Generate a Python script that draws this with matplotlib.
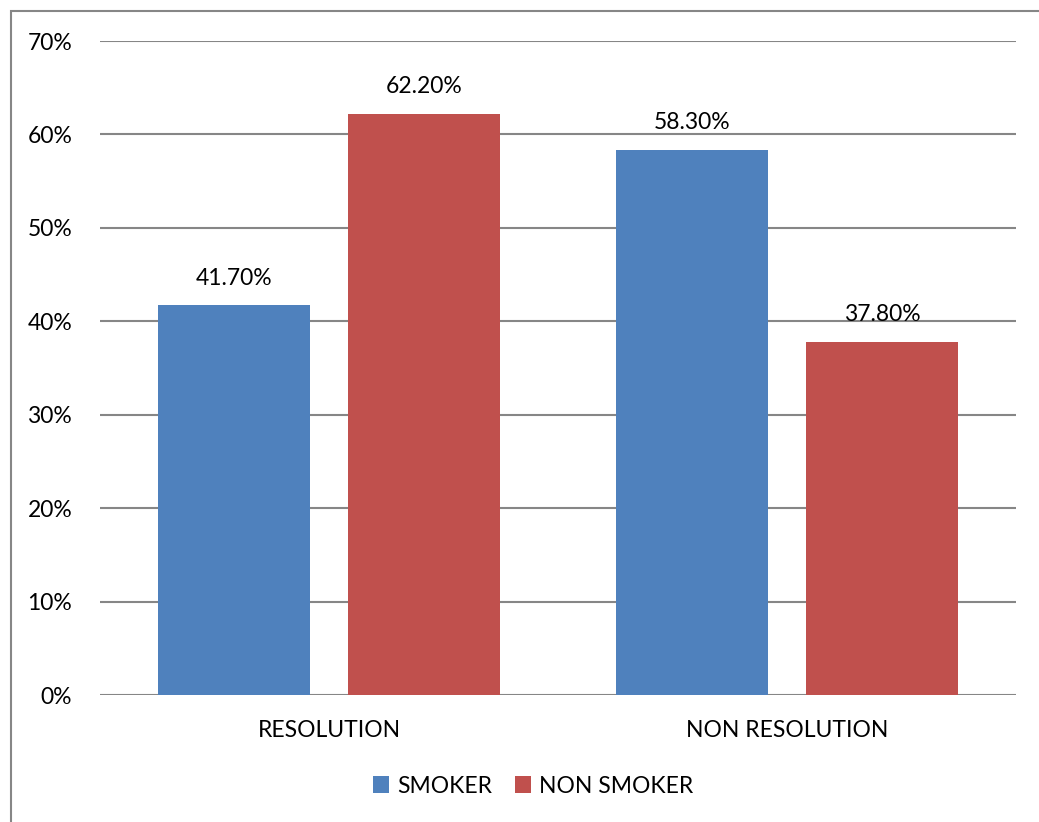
import matplotlib
matplotlib.use("Agg")
import matplotlib.pyplot as plt
import numpy as np
from matplotlib.patches import Rectangle

categories = ["RESOLUTION", "NON RESOLUTION"]
series_names = ["SMOKER", "NON SMOKER"]
smoker = [41.7, 58.3]
non_smoker = [62.2, 37.8]
y_ticks = [0, 10, 20, 30, 40, 50, 60, 70]

plt.rcParams['font.family'] = ['Lato', 'DejaVu Sans']
FS = 16.5

W, H = 1039, 822
fig = plt.figure(figsize=(W/100, H/100), dpi=100)
ax = fig.add_axes([100/W, 1-695/H, (1016-100)/W, (695-41)/H])

colors = ["#4F81BD", "#C0504D"]
x = np.arange(len(categories))
width = 0.332
off = 0.208
for vals, dx, c, name in [(smoker, -off, colors[0], series_names[0]),
                          (non_smoker, off, colors[1], series_names[1])]:
    bars = ax.bar(x + dx, vals, width, color=c, label=name, zorder=3)
    for b, v in zip(bars, vals):
        ax.text(b.get_x() + b.get_width()/2, v + 1.8, f"{v:.2f}%",
                ha='center', va='bottom', fontsize=FS, color='black')

ax.set_xlim(-0.5, 1.5)
ax.set_ylim(0, 70)
ax.set_yticks(y_ticks)
ax.set_yticklabels([f"{t}%" for t in y_ticks], fontsize=FS)
ax.set_xticks(x)
ax.set_xticklabels(categories, fontsize=FS)
ax.tick_params(length=0)
ax.tick_params(axis='y', pad=20)
ax.tick_params(axis='x', pad=18)
ax.grid(axis='y', color='#868686', linewidth=1.5, zorder=0)
for s in ax.spines.values():
    s.set_visible(False)

leg = fig.legend(loc='center', bbox_to_anchor=(533/W, 1-786/H), ncol=2,
                 frameon=False, fontsize=FS, handlelength=0.7, handleheight=0.7,
                 handletextpad=0.35, columnspacing=1.0)

fig.patches.append(Rectangle((11/W, -0.1), 1.2, 1 - 11/H + 0.1, transform=fig.transFigure,
                             fill=False, edgecolor='#868686', linewidth=1.5))

fig.savefig("out.png", dpi=100)
